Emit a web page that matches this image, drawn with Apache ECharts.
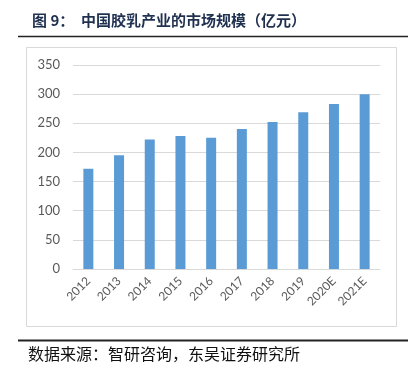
<!DOCTYPE html>
<html>
<head>
<meta charset="utf-8">
<script src="https://cdn.jsdelivr.net/npm/echarts@6/dist/echarts.min.js"></script>
<style>
  html, body { margin: 0; padding: 0; background: #fff; }
  #main { width: 416px; height: 376px; }
</style>
</head>
<body>
<div id="main"></div>
<script>
var years = ['2012', '2013', '2014', '2015', '2016', '2017', '2018', '2019', '2020E', '2021E'];
var marketSize = [172, 195, 222, 228, 225, 240, 252, 269, 283, 300];
var yTicks = [0, 350, 50]; // min, max, interval

var chart = echarts.init(document.getElementById('main'));

var option = {
    animation: false,
    backgroundColor: '#ffffff',
    title: {
        text: '图 9：  中国胶乳产业的市场规模（亿元）',
        left: 27,
        top: 8,
        textStyle: {
            fontFamily: 'Noto Sans CJK SC',
            fontSize: 15,
            fontWeight: 'bold',
            color: '#1f3050'
        }
    },
    graphic: [
        {
            type: 'line',
            shape: { x1: 18, y1: 36.5, x2: 408, y2: 36.5 },
            style: { stroke: '#222', lineWidth: 1.5 }
        },
        {
            type: 'rect',
            shape: { x: 26.5, y: 47.5, width: 370, height: 279 },
            style: { fill: 'none', stroke: '#d9d9d9', lineWidth: 1 }
        },
        {
            type: 'line',
            shape: { x1: 18, y1: 340.5, x2: 408, y2: 340.5 },
            style: { stroke: '#222', lineWidth: 2 }
        },
        {
            type: 'text',
            left: 28,
            top: 346,
            style: {
                text: '数据来源：智研咨询，东吴证券研究所',
                font: '16px "Noto Sans CJK SC"',
                fill: '#111'
            }
        }
    ],
    grid: {
        left: 73,
        right: 36,
        top: 65,
        bottom: 107
    },
    xAxis: {
        type: 'category',
        data: years,
        axisLine: { lineStyle: { color: '#d9d9d9', width: 1 } },
        axisTick: { show: false },
        axisLabel: {
            rotate: 45,
            margin: 10,
            color: '#595959',
            fontFamily: 'Lato',
            fontSize: 12,
            interval: 0
        }
    },
    yAxis: {
        type: 'value',
        min: yTicks[0],
        max: yTicks[1],
        interval: yTicks[2],
        axisLine: { show: false },
        axisTick: { show: false },
        splitLine: { lineStyle: { color: '#d9d9d9', width: 1 } },
        axisLabel: {
            margin: 13,
            color: '#595959',
            fontFamily: 'Lato',
            fontSize: 13
        }
    },
    series: [{
        type: 'bar',
        data: marketSize,
        barWidth: 10,
        itemStyle: { color: '#5b9bd5' }
    }]
};

chart.setOption(option);
</script>
</body>
</html>
